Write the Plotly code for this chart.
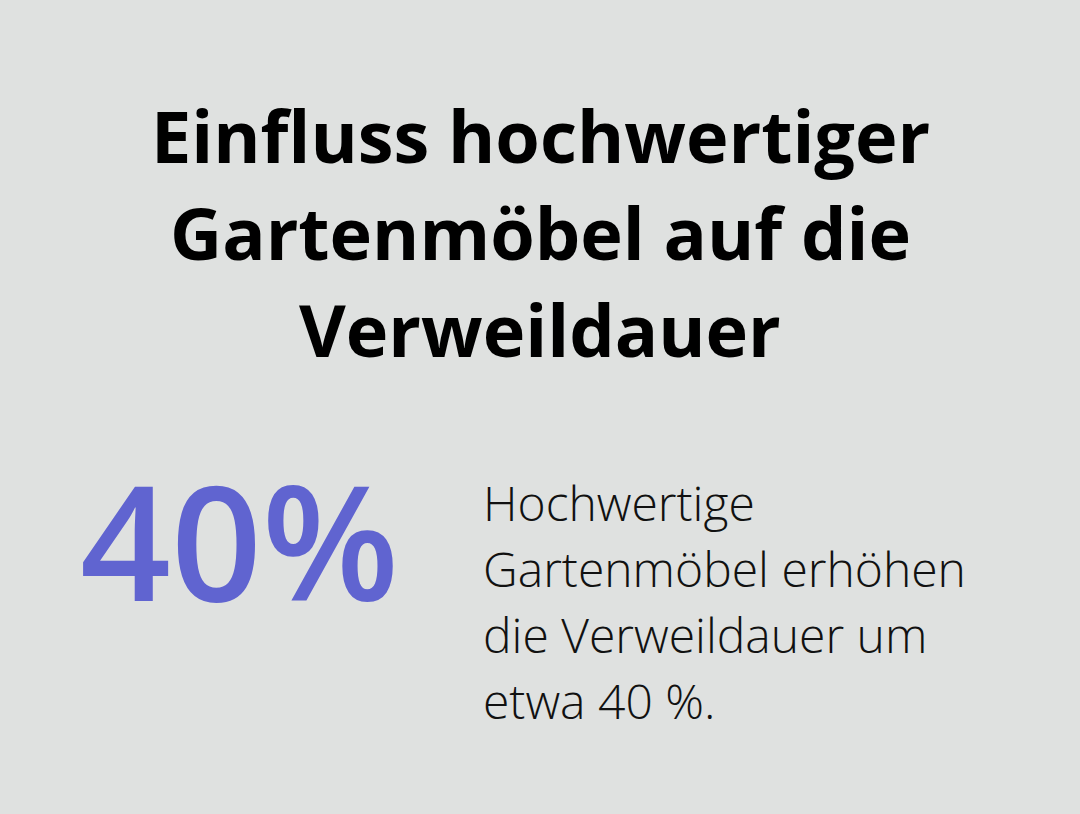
import plotly.graph_objects as go

W, H = 1080, 814
BG = "#dfe1e0"
PURPLE = "#6064d0"

title_lines = ["Einfluss hochwertiger", "Gartenmöbel auf die", "Verweildauer"]
stat_value = "40%"
body_lines = ["Hochwertige", "Gartenmöbel erhöhen", "die Verweildauer um", "etwa 40 %."]

fig = go.Figure()

def py(y):
    return 1 - y / H

title_centers = [135, 232, 329]
for txt, yc in zip(title_lines, title_centers):
    fig.add_annotation(text=txt, x=0.5, y=py(yc), xref="paper", yref="paper",
                       xanchor="center", yanchor="middle", showarrow=False,
                       font=dict(family="Open Sans", size=72, color="#000000", weight=700))

fig.add_annotation(text=stat_value, x=78 / W, y=py(539), xref="paper", yref="paper",
                   xanchor="left", yanchor="middle", showarrow=False,
                   font=dict(family="Open Sans", size=159, color=PURPLE, weight=600))

body_centers = [502, 568, 634, 700]
for txt, yc in zip(body_lines, body_centers):
    fig.add_annotation(text=txt, x=481 / W, y=py(yc), xref="paper", yref="paper",
                       xanchor="left", yanchor="middle", showarrow=False,
                       font=dict(family="Open Sans", size=48, color="#111111", weight=300))

fig.update_layout(width=W, height=H, paper_bgcolor=BG, plot_bgcolor=BG,
                  margin=dict(l=0, r=0, t=0, b=0),
                  xaxis=dict(visible=False), yaxis=dict(visible=False),
                  showlegend=False)
fig.write_html("out.html", config={"displayModeBar": False},
               post_script="document.body.style.margin='0';document.body.style.background='" + BG + "';")
